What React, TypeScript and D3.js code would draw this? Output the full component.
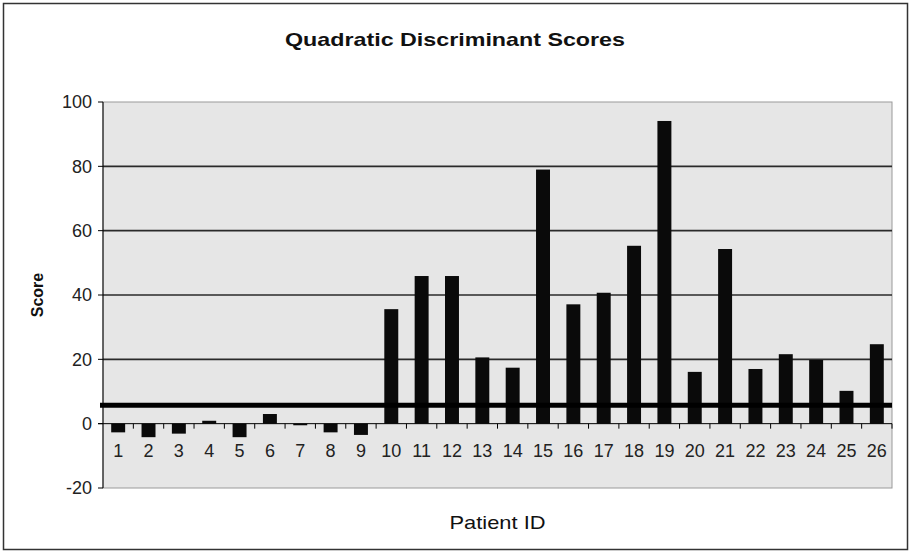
import React from "react";
import * as d3 from "d3";

const patientIds: string[] = Array.from({ length: 26 }, (_, i) => String(i + 1));
const scores: number[] = [
  -2.7, -4.2, -3.1, 0.9, -4.2, 3.0, -0.5, -2.7, -3.5,
  35.6, 45.9, 45.9, 20.6, 17.4, 79.0, 37.1, 40.7, 55.3, 94.1,
  16.1, 54.3, 17.0, 21.6, 19.8, 10.2, 24.7,
];
const threshold = 5.7;
const yTicks: number[] = [-20, 0, 20, 40, 60, 80, 100];
const title = "Quadratic Discriminant Scores";
const xLabel = "Patient ID";
const yLabel = "Score";

const W = 909;
const H = 552;
const left = 103;
const right = 892;
const top = 102;
const bottom = 488;

export default function App() {
  const x = d3.scaleBand<string>().domain(patientIds).range([left, right]).paddingInner(0.54).paddingOuter(0.27);
  const band = d3.scaleBand<string>().domain(patientIds).range([left, right]);
  const y = d3.scaleLinear().domain([-20, 100]).range([bottom, top]);
  const font = "'Liberation Sans', Arial, sans-serif";
  const y0 = y(0);

  return (
    <svg width={W} height={H} style={{ position: "absolute", left: 0, top: 0 }} fontFamily={font}>
      <rect x={0} y={0} width={W} height={H} fill="#fff" />
      <rect x={3.5} y={3.5} width={W - 5} height={H - 6} fill="none" stroke="#333" strokeWidth={1.5} />
      <text x={455} y={46} textAnchor="middle" fontSize={19} fontWeight="bold" fill="#111" textLength={340} lengthAdjust="spacingAndGlyphs">{title}</text>
      {/* plot area */}
      <rect x={left} y={top} width={right - left} height={bottom - top} fill="#e6e6e6" stroke="#9a9a9a" strokeWidth={1} />
      {/* gridlines */}
      {yTicks.filter((t) => t > 0 && t < 100).map((t) => (
        <line key={"g" + t} x1={left} x2={right} y1={y(t)} y2={y(t)} stroke="#2a2a2a" strokeWidth={1.6} />
      ))}
      {/* bars */}
      {scores.map((v, i) => {
        const id = patientIds[i];
        const yt = y(Math.max(0, v));
        const yb = y(Math.min(0, v));
        return (
          <rect key={"b" + id} x={x(id)} y={yt} width={x.bandwidth()} height={Math.max(1, yb - yt)} fill="#0a0a0a" />
        );
      })}
      {/* threshold line */}
      <line x1={left - 3} x2={right} y1={y(threshold)} y2={y(threshold)} stroke="#000" strokeWidth={5} />
      {/* y axis */}
      <line x1={left} x2={left} y1={top} y2={bottom} stroke="#000" strokeWidth={1} />
      {yTicks.map((t) => (
        <g key={"yt" + t}>
          <line x1={left - 5} x2={left} y1={y(t)} y2={y(t)} stroke="#000" strokeWidth={1} />
          <text x={left - 11} y={y(t)} dy="0.35em" textAnchor="end" fontSize={18} fill="#222">{t}</text>
        </g>
      ))}
      {/* x axis at zero */}
      <line x1={left - 5} x2={right} y1={y0} y2={y0} stroke="#000" strokeWidth={1} />
      {patientIds.map((id) => (
        <line key={"xt" + id} x1={(band(id) as number) + band.bandwidth()} x2={(band(id) as number) + band.bandwidth()} y1={y0} y2={y0 + 5} stroke="#000" strokeWidth={1} />
      ))}
      {patientIds.map((id) => (
        <text key={"xl" + id} x={(band(id) as number) + band.bandwidth() / 2} y={y0 + 33} textAnchor="middle" fontSize={18} fill="#222">{id}</text>
      ))}
      <text x={(left + right) / 2} y={529} textAnchor="middle" fontSize={19} fill="#111" textLength={96} lengthAdjust="spacingAndGlyphs">{xLabel}</text>
      <text transform={`translate(43,${(top + bottom) / 2}) rotate(-90)`} textAnchor="middle" fontSize={16} fontWeight="bold" fill="#111">{yLabel}</text>
    </svg>
  );
}
